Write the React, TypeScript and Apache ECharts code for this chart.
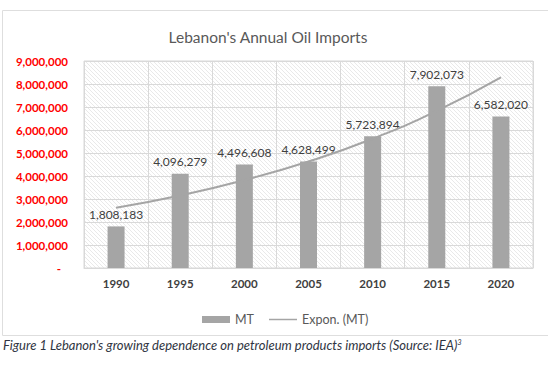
import React, { useEffect, useRef } from "react";
import * as echarts from "echarts";

const years = ["1990", "1995", "2000", "2005", "2010", "2015", "2020"];
const imports = [1808183, 4096279, 4496608, 4628499, 5723894, 7902073, 6582020];
// exponential trendline at each category
const trend = [2620000, 3150000, 3820000, 4630000, 5620000, 6830000, 8290000];
const titleText = "Lebanon's Annual Oil Imports";
const captionText = "Figure 1 Lebanon's growing dependence on petroleum products imports (Source: IEA)";

const hatch =
  "data:image/svg+xml;charset=utf-8," +
  encodeURIComponent(
    "<svg xmlns='http://www.w3.org/2000/svg' width='4' height='4'><path d='M-1,-1 L5,5 M-1,3 L1,5 M3,-1 L5,1' stroke='#e6e6e6' stroke-width='0.9'/></svg>"
  );

const fmt = (v: number) => v.toLocaleString("en-US");

export default function App() {
  const ref = useRef<HTMLDivElement>(null);
  useEffect(() => {
    if (!ref.current) return;
    const chart = echarts.init(ref.current, null, { renderer: "svg" });
    const gl = 84, gt = 61, gr = 15, gb = 101;
    const W = 548, H = 369;
    chart.setOption({
      animation: false,
      textStyle: { fontFamily: "Lato" },
      title: {
        text: titleText,
        left: 263,
        top: 24,
        textAlign: "center",
        textStyle: { fontSize: 15.5, fontWeight: "normal", color: "#595959", fontFamily: "Lato" },
      },
      grid: {
        left: gl,
        right: gr,
        top: gt,
        bottom: gb,
        show: true,
        borderColor: "#d9d9d9",
        borderWidth: 1,
        backgroundColor: "transparent",
      },
      legend: {
        left: 197,
        top: 308,
        itemWidth: 28,
        itemHeight: 7,
        itemGap: 15,
        textStyle: { fontSize: 12.5, color: "#595959", fontFamily: "Lato" },
        data: [
          { name: "MT", icon: "rect" },
          { name: "Expon. (MT)", icon: "path://M0,0 h28 v1.5 h-28 z" },
        ],
      },
      xAxis: {
        type: "category",
        data: years,
        axisLine: { lineStyle: { color: "#d9d9d9" } },
        axisTick: { show: false },
        splitLine: { show: true, lineStyle: { color: "#d9d9d9" } },
        axisLabel: { fontSize: 11.5, fontWeight: "bold", color: "#404040", margin: 9, fontFamily: "Lato" },
      },
      yAxis: {
        type: "value",
        min: 0,
        max: 9000000,
        interval: 1000000,
        axisLine: { show: false },
        axisTick: { show: false },
        splitLine: { lineStyle: { color: "#d9d9d9" } },
        axisLabel: {
          margin: 16,
          fontSize: 11.5,
          fontWeight: "bold",
          color: "#ff0000",
          fontFamily: "Lato",
          formatter: (v: number) => (v === 0 ? "{d|-}" : fmt(v)),
          rich: { d: { fontSize: 11.5, fontWeight: "bold", color: "#ff0000", padding: [0, 7, 0, 0] } },
        },
      },
      graphic: [
        {
          type: "rect",
          z: -20,
          silent: true,
          shape: { x: 2.5, y: 10.5, width: 600, height: 325 },
          style: { fill: "#ffffff", stroke: "#dedede", lineWidth: 1 },
        },
        {
          type: "rect",
          z: -10,
          silent: true,
          shape: { x: gl, y: gt, width: W - gl - gr, height: H - gt - gb },
          style: { fill: { image: hatch, repeat: "repeat", imageWidth: 4, imageHeight: 4 } as any },
        },
        {
          type: "text",
          x: 3,
          y: 338,
          silent: true,
          style: {
            text: "{a|" + captionText + "}{s|3}",
            rich: {
              a: { fontSize: 13, fontStyle: "italic", fill: "#2f3542", fontFamily: "Lato" },
              s: { fontSize: 7.5, fontStyle: "italic", fill: "#2f3542", fontFamily: "Lato", verticalAlign: "top" },
            },
          } as any,
        },
      ],
      series: [
        {
          name: "MT",
          type: "bar",
          data: imports,
          barWidth: 17,
          itemStyle: { color: "#a5a5a5" },
          label: {
            show: true,
            position: "top",
            distance: 6,
            fontSize: 12,
            color: "#404040",
            fontFamily: "Lato",
            formatter: (p: any) => fmt(p.value),
          },
          z: 2,
        },
        {
          name: "Expon. (MT)",
          type: "line",
          data: trend,
          smooth: true,
          symbol: "none",
          showSymbol: false,
          lineStyle: { color: "#a5a5a5", width: 2 },
          itemStyle: { color: "#a5a5a5" },
          z: 3,
        },
      ],
    });
    return () => chart.dispose();
  }, []);
  return (
    <div
      ref={ref}
      style={{ position: "absolute", left: 0, top: 0, width: 548, height: 369, background: "#fff" }}
    />
  );
}
